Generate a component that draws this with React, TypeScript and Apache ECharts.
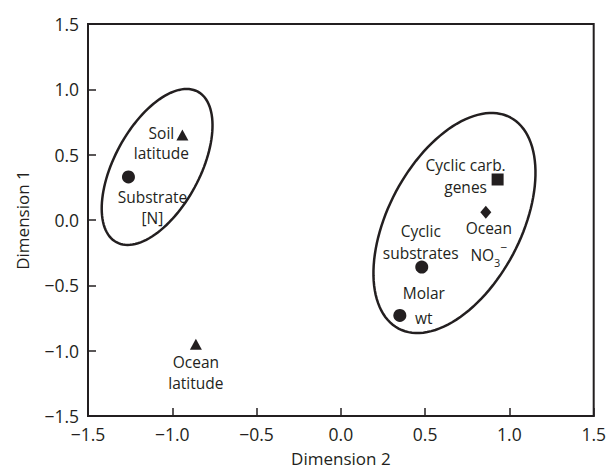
import React, { useEffect, useRef } from "react";
import * as echarts from "echarts";

// Point data (Dimension 2 = x, Dimension 1 = y)
const pointNames = [
  "Soil latitude",
  "Substrate [N]",
  "Ocean latitude",
  "Cyclic carb. genes",
  "Ocean NO3−",
  "Cyclic substrates",
  "Molar wt",
];
const dim2Values = [-0.94, -1.26, -0.86, 0.93, 0.86, 0.48, 0.35];
const dim1Values = [0.65, 0.33, -0.95, 0.31, 0.06, -0.36, -0.73];
const markerTypes = ["triangle", "circle", "triangle", "rect", "diamond", "circle", "circle"];

// Ellipses: centre (dim2, dim1), semi-major, semi-minor (in Dimension-1 units), tilt (deg from vertical)
const ellipseCentreX = [-1.09, 0.674];
const ellipseCentreY = [0.406, -0.023];
const ellipseMajor = [0.655, 0.914];
const ellipseMinor = [0.327, 0.508];
const ellipseTilt = [28.4, 27.9];

// Axis ticks
const axisMin = -1.5;
const axisMax = 1.5;
const axisStep = 0.5;

const INK = "#231f20";
const FONT = "'Open Sans', 'Noto Sans', sans-serif";
const LABEL_SIZE = 15.5;

const labelText: Record<string, string> = {
  "Soil latitude": "Soil\nlatitude",
  "Substrate [N]": "Substrate\n[N]",
  "Ocean latitude": "Ocean\nlatitude",
  "Cyclic carb. genes": "Cyclic carb.\ngenes",
  "Ocean NO3−": "{n|Ocean}\n{n|NO}{sub|3}{sup|−}",
  "Cyclic substrates": "Cyclic\nsubstrates",
  "Molar wt": "Molar\nwt",
};
const labelLayout: Record<string, { offset: number[]; lineHeight: number }> = {
  "Soil latitude": { offset: [-21, 8], lineHeight: 20 },
  "Substrate [N]": { offset: [24, 31], lineHeight: 21 },
  "Ocean latitude": { offset: [0, 28], lineHeight: 21 },
  "Cyclic carb. genes": { offset: [-32, -3], lineHeight: 22 },
  "Ocean NO3−": { offset: [3, 29], lineHeight: 27 },
  "Cyclic substrates": { offset: [-1, -25], lineHeight: 22 },
  "Molar wt": { offset: [24, -10], lineHeight: 25 },
};
const markerSize: Record<string, number[]> = {
  circle: [13, 13],
  triangle: [12, 11],
  rect: [12, 12],
  diamond: [11, 13],
};

const fmt = (v: number) => v.toFixed(1).replace("-", "−");

export default function App() {
  const ref = useRef<HTMLDivElement>(null);
  useEffect(() => {
    if (!ref.current) return;
    const chart = echarts.init(ref.current, undefined, { renderer: "svg" });

    const scatterData = pointNames.map((name, i) => {
      const lay = labelLayout[name];
      return {
        name,
        value: [dim2Values[i], dim1Values[i]],
        symbol: markerTypes[i],
        symbolSize: markerSize[markerTypes[i]],
        label: {
          show: true,
          position: "inside",
          offset: lay.offset,
          formatter: labelText[name],
          align: "center",
          verticalAlign: "middle",
          color: INK,
          fontSize: LABEL_SIZE,
          fontFamily: FONT,
          lineHeight: lay.lineHeight,
          rich: {
            n: { fontSize: LABEL_SIZE, fontFamily: FONT, color: INK, lineHeight: lay.lineHeight },
            sub: { fontSize: 11, fontFamily: FONT, color: INK, verticalAlign: "bottom", lineHeight: lay.lineHeight - 4 },
            sup: { fontSize: 12, fontFamily: FONT, color: INK, verticalAlign: "top", lineHeight: lay.lineHeight - 2 },
          },
        },
      };
    });

    const ellipseData = ellipseCentreX.map((cx, i) => [
      cx,
      ellipseCentreY[i],
      ellipseMajor[i],
      ellipseMinor[i],
      ellipseTilt[i],
    ]);

    const axisCommon = {
      type: "value" as const,
      min: axisMin,
      max: axisMax,
      interval: axisStep,
      axisLine: { show: true, onZero: false, lineStyle: { color: INK, width: 2 } },
      axisTick: { show: true, inside: true, length: 8, lineStyle: { color: INK, width: 1.5 } },
      splitLine: { show: false },
      axisLabel: {
        formatter: fmt,
        color: INK,
        fontSize: 17.5,
        fontFamily: FONT,
      },
      nameLocation: "middle" as const,
      nameTextStyle: { color: INK, fontSize: 17, fontFamily: FONT },
    };

    chart.setOption({
      animation: false,
      backgroundColor: "#ffffff",
      grid: {
        left: 88,
        right: 13,
        top: 24,
        bottom: 55,
        show: true,
        borderColor: INK,
        borderWidth: 2,
        containLabel: false,
      },
      xAxis: {
        ...axisCommon,
        name: "Dimension 2",
        nameGap: 34,
        axisLabel: { ...axisCommon.axisLabel, margin: 9 },
      },
      yAxis: {
        ...axisCommon,
        name: "Dimension 1",
        nameGap: 57,
        axisLabel: { ...axisCommon.axisLabel, margin: 9 },
      },
      series: [
        {
          type: "custom",
          coordinateSystem: "cartesian2d",
          silent: true,
          encode: { x: 0, y: 1 },
          data: ellipseData,
          renderItem: (params: any, api: any) => {
            const c = api.coord([api.value(0), api.value(1)]);
            const unitY = api.size([0, 1])[1];
            const a = api.value(2) * unitY;
            const b = api.value(3) * unitY;
            const th = (api.value(4) * Math.PI) / 180;
            const pts: number[][] = [];
            const n = 120;
            for (let k = 0; k < n; k++) {
              const t = (2 * Math.PI * k) / n;
              const ca = a * Math.cos(t);
              const sb = b * Math.sin(t);
              pts.push([
                c[0] + ca * Math.sin(th) + sb * Math.cos(th),
                c[1] - ca * Math.cos(th) + sb * Math.sin(th),
              ]);
            }
            return {
              type: "polygon",
              shape: { points: pts },
              style: { fill: "none", stroke: INK, lineWidth: 2.5 },
            };
          },
          z: 1,
        },
        {
          type: "scatter",
          data: scatterData,
          itemStyle: { color: INK, opacity: 1 },
          z: 2,
        },
      ],
    });

    return () => chart.dispose();
  }, []);

  return (
    <div
      ref={ref}
      style={{ position: "absolute", left: 0, top: 0, width: 609, height: 472 }}
    />
  );
}
